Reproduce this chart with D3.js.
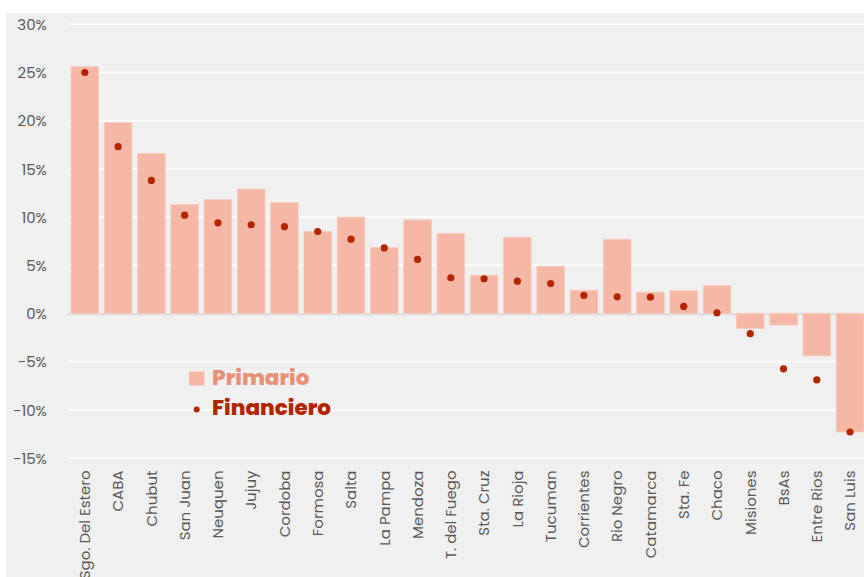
<!DOCTYPE html>
<html>
<head>
<meta charset="utf-8">
<script src="https://cdn.jsdelivr.net/npm/d3@7"></script>
<style>
  html, body { margin: 0; padding: 0; background: #ffffff; }
  svg { display: block; }
  text { font-family: Poppins, "Open Sans", "DejaVu Sans", sans-serif; }
</style>
</head>
<body>
<svg id="chart" width="864" height="577"></svg>
<script>
// Provincial results, % of revenue
const provinces = ["Sgo. Del Estero", "CABA", "Chubut", "San Juan", "Neuquen", "Jujuy", "Cordoba",
  "Formosa", "Salta", "La Pampa", "Mendoza", "T. del Fuego", "Sta. Cruz", "La Rioja", "Tucuman",
  "Corrientes", "Rio Negro", "Catamarca", "Sta. Fe", "Chaco", "Misiones", "BsAs", "Entre Rios", "San Luis"];
const primario = [25.6, 19.8, 16.6, 11.3, 11.8, 12.9, 11.5, 8.5, 10.0, 6.85, 9.7, 8.3, 3.97, 7.9, 4.9,
  2.4, 7.7, 2.2, 2.35, 2.9, -1.55, -1.2, -4.4, -12.3];
const financiero = [25.0, 17.3, 13.8, 10.2, 9.4, 9.2, 9.0, 8.5, 7.7, 6.8, 5.6, 3.7, 3.6, 3.35, 3.1,
  1.87, 1.72, 1.69, 0.73, 0.06, -2.1, -5.75, -6.9, -12.3];
const yTicks = [-15, -10, -5, 0, 5, 10, 15, 20, 25, 30];
const seriesNames = ["Primario", "Financiero"];

const barColor = "#f5b7a6";
const dotColor = "#b32400";

const svg = d3.select("#chart");

// panel background
svg.append("rect").attr("x", 6).attr("y", 13).attr("width", 858).attr("height", 564).attr("fill", "#f0f0f0");

const x = d3.scaleBand().domain(provinces).range([68.2, 866.7]).paddingInner(0.17).paddingOuter(0.085);
const y = d3.scaleLinear().domain([-15, 30]).range([458, 24.3]);

// horizontal gridlines
svg.append("g").selectAll("line").data(yTicks.filter(d => d !== 0)).join("line")
  .attr("x1", 68).attr("x2", 864)
  .attr("y1", d => y(d)).attr("y2", d => y(d))
  .attr("stroke", "#ffffff").attr("stroke-width", 1.5);

// zero line
svg.append("line").attr("x1", 68).attr("x2", 864).attr("y1", y(0) + 0.8).attr("y2", y(0) + 0.8)
  .attr("stroke", "#dcdcdc").attr("stroke-width", 2);

// y axis labels
const yAxis = d3.axisLeft(y).tickValues(yTicks).tickFormat(d => d + "%").tickSize(0).tickPadding(0);
const yg = svg.append("g").attr("transform", "translate(47,0)").call(yAxis);
yg.select(".domain").remove();
yg.selectAll("text").attr("fill", "#595959").style("font-size", "15px").attr("dy", "0.35em");

// bars
svg.append("g").selectAll("rect").data(provinces).join("rect")
  .attr("x", d => x(d))
  .attr("width", x.bandwidth())
  .attr("y", (d, i) => Math.min(y(primario[i]), y(0)))
  .attr("height", (d, i) => Math.abs(y(primario[i]) - y(0)))
  .attr("fill", barColor)
  .attr("stroke", "#f8cbbd").attr("stroke-width", 0.8);

// dots
svg.append("g").selectAll("circle").data(provinces).join("circle")
  .attr("cx", d => x(d) + x.bandwidth() / 2)
  .attr("cy", (d, i) => y(financiero[i]))
  .attr("r", 3.6)
  .attr("fill", dotColor);

// x axis labels (rotated)
const xAxis = d3.axisBottom(x).tickSize(0).tickPadding(0);
const xg = svg.append("g").attr("transform", "translate(0,470.5)").call(xAxis);
xg.select(".domain").remove();
xg.selectAll("text")
  .attr("transform", "rotate(-90)")
  .attr("x", 0).attr("y", 0).attr("dy", "0.35em")
  .attr("text-anchor", "end")
  .attr("fill", "#595959").style("font-size", "15px");

// legend
const lg = svg.append("g");
lg.append("rect").attr("x", 189).attr("y", 371.5).attr("width", 15.5).attr("height", 14).attr("fill", barColor);
lg.append("circle").attr("cx", 196.7).attr("cy", 409.5).attr("r", 3).attr("fill", dotColor);
lg.append("text").attr("x", 212).attr("y", 385).text(seriesNames[0])
  .attr("fill", "#e8917a").style("font-size", "21.5px").style("font-weight", "800");
lg.append("text").attr("x", 212).attr("y", 415).text(seriesNames[1])
  .attr("fill", dotColor).style("font-size", "21.5px").style("font-weight", "800");
</script>
</body>
</html>
